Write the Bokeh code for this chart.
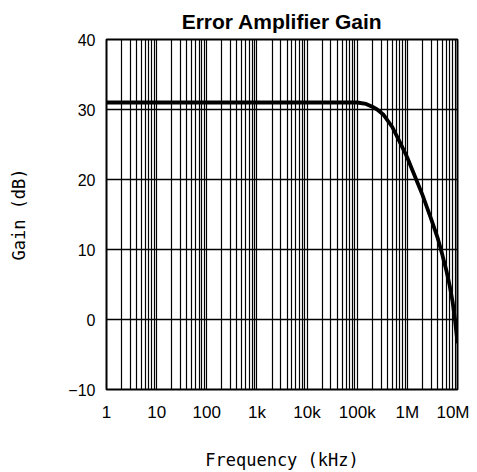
from bokeh.plotting import figure
from bokeh.models import FixedTicker, Title
from bokeh.embed import file_html
from bokeh.resources import INLINE

# Data (frequency in axis units: 1 ... 10M, gain in dB)
freq = [1, 10, 100, 1000, 10000, 100000, 150000, 200000, 250000, 330000, 500000, 700000,
        860000, 1000000, 1500000, 2000000, 3000000, 4000000, 5000000, 6000000, 7000000,
        8000000, 9000000, 10000000]
gain_db = [31, 31, 31, 31, 31, 31, 30.8, 30.4, 30.0, 29.3, 27.5, 25.4,
           24.1, 23.1, 20.0, 17.8, 14.3, 11.7, 9.2, 7.0, 4.8,
           2.5, -0.3, -3.4]

x_major = [1, 10, 100, 1000, 10000, 100000, 1000000, 10000000]
x_labels = ["1", "10", "100", "1k", "10k", "100k", "1M", "10M"]
y_major = [-10, 0, 10, 20, 30, 40]
y_labels = ["\u221210", "0", "10", "20", "30", "40"]
x_grid = [m * d for d in [1, 10, 100, 1000, 10000, 100000, 1000000] for m in range(1, 10)] + [10000000]

p = figure(width=469, height=472, x_axis_type="log",
           x_range=(1, 1e7), y_range=(-10, 40),
           output_backend="svg", toolbar_location=None,
           min_border_left=106, min_border_right=12,
           min_border_top=39, min_border_bottom=83)

t = Title(text="Error Amplifier Gain", align="center",
          text_font="Liberation Sans", text_font_size="21px",
          text_font_style="bold", text_color="black", standoff=14)
p.add_layout(t, "above")

p.outline_line_color = "black"
p.outline_line_width = 2
p.background_fill_color = "white"
p.border_fill_color = "white"

p.xaxis.ticker = FixedTicker(ticks=x_major)
p.xaxis.major_label_overrides = {v: s for v, s in zip(x_major, x_labels)}
p.yaxis.ticker = FixedTicker(ticks=y_major)
p.yaxis.major_label_overrides = {v: s for v, s in zip(y_major, y_labels)}

for ax in (p.xaxis, p.yaxis):
    ax.axis_line_color = None
    ax.major_tick_line_color = None
    ax.minor_tick_line_color = None
    ax.major_tick_out = 0
    ax.major_tick_in = 0
    ax.minor_tick_out = 0
    ax.major_label_text_font = "Liberation Sans"
    ax.major_label_text_color = "black"
    ax.axis_label_text_font = "DejaVu Sans Mono"
    ax.axis_label_text_font_size = "17px"
    ax.axis_label_text_font_style = "normal"
    ax.axis_label_text_color = "black"

p.xaxis.major_label_text_font_size = "17px"
p.yaxis.major_label_text_font_size = "16px"
p.xaxis.axis_label = "Frequency (kHz)"
p.yaxis.axis_label = "Gain (dB)"
p.xaxis.major_label_standoff = 13
p.xaxis.axis_label_standoff = 25
p.yaxis.major_label_standoff = 11
p.yaxis.axis_label_standoff = 36

p.xgrid.ticker = FixedTicker(ticks=x_grid)
p.xgrid.grid_line_color = "#000000"
p.xgrid.grid_line_width = 1.2
p.ygrid.ticker = FixedTicker(ticks=y_major)
p.ygrid.grid_line_color = "black"
p.ygrid.grid_line_width = 1.6

p.line(freq, gain_db, line_color="black", line_width=3.8)

open("out.html", "w").write(file_html(p, INLINE))
